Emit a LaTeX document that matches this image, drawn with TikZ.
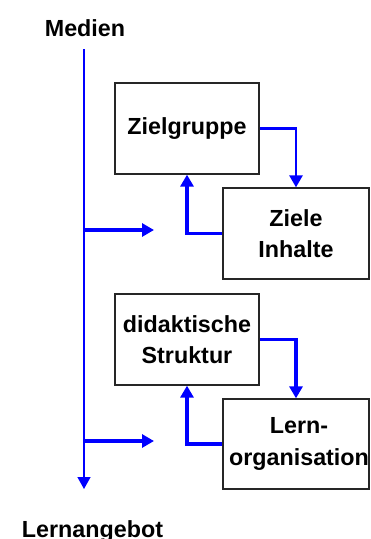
\documentclass[tikz,border=0pt]{standalone}
\usepackage{fontspec}
\setmainfont{Liberation Sans}
\usetikzlibrary{arrows.meta}
\definecolor{lineblue}{RGB}{0,0,255}
\tikzset{
  box/.style={draw=black!85, line width=1.3pt, inner sep=0pt, align=center,
    font=\bfseries\fontsize{23.3}{31.5}\selectfont},
  lbl/.style={inner sep=0pt, anchor=base, font=\bfseries\fontsize{23.3}{28}\selectfont},
  flow/.style={draw=lineblue, line width=3.2pt, -{Triangle[length=12pt,width=13pt]}},
  mainline/.style={draw=lineblue, line width=1.4pt, -{Triangle[length=12pt,width=13pt]}}
}
\begin{document}
\begin{tikzpicture}[x=1pt,y=-1pt]
\useasboundingbox (0,0) rectangle (371,539);
\node[lbl] (medien) at (85,36) {Medien};
\node[lbl] (lern) at (92.5,537) {Lernangebot};

\node[box, minimum width=144pt, minimum height=91pt] (zg) at (187,128.5) {Zielgruppe};
\node[box, minimum width=146pt, minimum height=91pt] (zi) at (296,233.5) {Ziele\\Inhalte};
\node[box, minimum width=144pt, minimum height=91pt] (ds) at (187,339.5) {didaktische\\Struktur};
\node[box, minimum width=146pt, minimum height=90pt] (lo) at (296,444) {};
\node[lbl, align=center, anchor=center, font=\bfseries\fontsize{23.3}{31.5}\selectfont] (lotext) at (299,444) {Lern-\\organisation};

\coordinate (top) at (84,49);
\coordinate (bot) at (84,489);
\coordinate (b1) at (84,230);
\coordinate (e1) at (154,230);
\coordinate (b2) at (84,441);
\coordinate (e2) at (154,441);

\draw[mainline] (top) -- (bot);
\draw[flow] (b1) -- (e1);
\draw[flow] (b2) -- (e2);

\draw[flow, line width=2.6pt] (zg.east) -| (zi.north);
\draw[flow] (zi.west) -| (zg.south);
\draw[flow] (ds.east) -| (lo.north);
\draw[flow] (lo.west) -| (ds.south);
\end{tikzpicture}
\end{document}
